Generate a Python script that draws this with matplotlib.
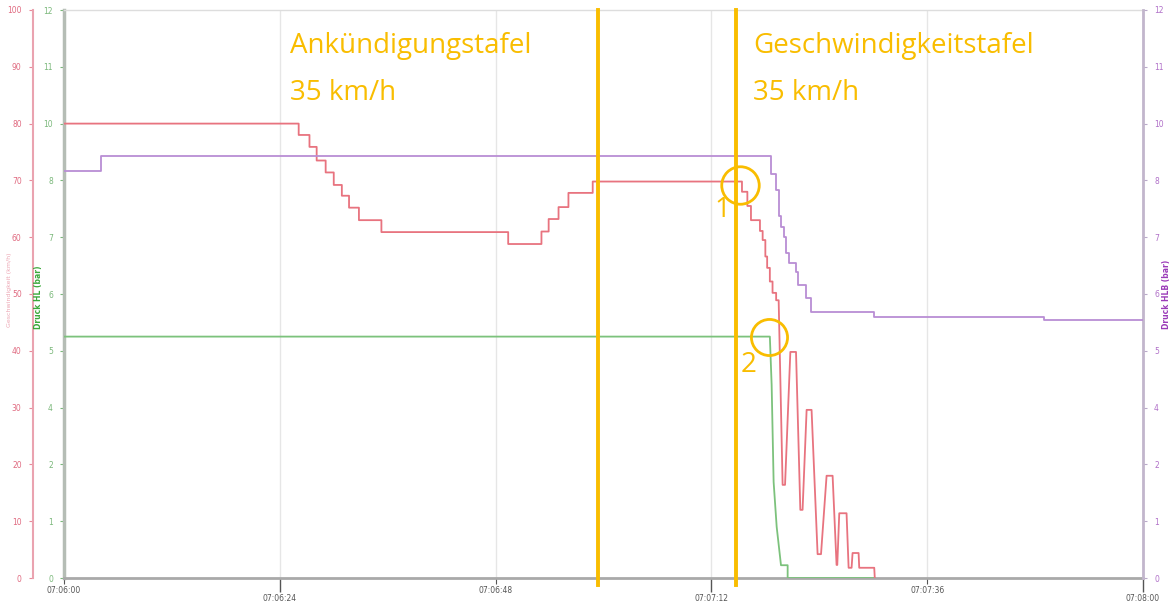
import numpy as np
import matplotlib
matplotlib.use("Agg")
import matplotlib.pyplot as plt

# ---------------- data (time in seconds after 07:06:00) ----------------
tick_secs = [0, 24, 48, 72, 96, 120]
tick_labels = ["07:06:00", "07:06:24", "07:06:48", "07:07:12", "07:07:36", "07:08:00"]

# speed (km/h) - step part: change times and levels (steps-post)
speed_step_t = [0, 26.1, 27.3, 28.1, 29.1, 30.0, 30.9, 31.7, 32.8, 35.3, 49.4, 53.1,
                53.9, 55.0, 56.1, 58.8, 75.4, 76.0, 76.4, 77.4, 77.7, 78.0, 78.2, 78.5,
                78.8, 79.2]
speed_step_v = [80.0, 78.0, 75.9, 73.5, 71.4, 69.2, 67.3, 65.2, 63.0, 60.9, 58.8, 61.0,
                63.2, 65.3, 67.8, 69.8, 68.0, 65.5, 63.0, 61.1, 59.5, 56.6, 54.6, 52.2,
                50.2, 48.9]
# speed - oscillating part (vertices)
speed_osc_t = [79.48, 79.92, 80.19, 80.78, 81.41, 81.89, 82.14, 82.59, 83.14, 83.81,
               84.19, 84.81, 85.48, 85.92, 86.0, 86.22, 87.03, 87.26, 87.59, 87.70,
               88.37, 88.44, 90.11, 90.17]
speed_osc_v = [48.9, 16.4, 16.4, 39.8, 39.8, 12.0, 12.0, 29.6, 29.6, 4.2,
               4.2, 18.0, 18.0, 2.3, 2.3, 11.4, 11.4, 1.8, 1.8, 4.4,
               4.4, 1.8, 1.8, 0.0]

# brake pipe pressure HL (bar)
hl_t = [0, 78.5, 78.7, 78.92, 79.26, 79.74, 80.48, 80.48, 90.11]
hl_v = [5.1, 5.1, 4.08, 2.03, 1.08, 0.27, 0.27, 0.0, 0.0]

# HLB pressure (bar) - steps-post
hlb_t = [0, 4.1, 78.63, 79.19, 79.48, 79.74, 80.11, 80.3, 80.67, 81.41, 81.59,
         82.52, 83.08, 90.11, 109.0, 120]
hlb_v = [8.6, 8.92, 8.53, 8.2, 7.65, 7.42, 7.21, 6.87, 6.65, 6.47, 6.19,
         5.91, 5.62, 5.52, 5.45, 5.45]

sign_times = [59.44, 74.78]

# ---------------- style ----------------
RED = "#e8737f"
GREEN = "#7cc27c"
PURPLE = "#b98ed4"
ORANGE = "#f9bd00"


def steps_to_vertices(t, v):
    xs, ys = [], []
    for i in range(len(t)):
        if i > 0:
            xs.append(t[i]); ys.append(v[i - 1])
        xs.append(t[i]); ys.append(v[i])
    return xs, ys


fig = plt.figure(figsize=(11.7, 6.02), dpi=100)
ax = fig.add_axes([64 / 1170, 1 - 578 / 602, (1143 - 64) / 1170, 568 / 602])
ax_r = ax.twinx()
ax_p = ax.twinx()

# main (green) axis
ax.set_xlim(0, 120)
ax.set_ylim(0, 12)
gt = np.arange(0, 12.01, 1.2)
ax.set_yticks(gt)
ax.set_yticklabels([str(int(round(g))) for g in gt])
ax.tick_params(axis="y", colors="#7ab87a", labelsize=5.5, length=3, width=0.8,
               labelcolor="#7ab87a", pad=5)

# x axis
ax.set_xticks(tick_secs[::2])
ax.set_xticklabels(tick_labels[::2])
ax.set_xticks(tick_secs[1::2], minor=True)
ax.set_xticklabels(tick_labels[1::2], minor=True)
ax.tick_params(axis="x", which="major", length=4, width=0.8, labelsize=5.5,
               colors="#555555", pad=2)
ax.tick_params(axis="x", which="minor", length=10, width=1.0, labelsize=5.5,
               colors="#555555", pad=1.5)
ax.grid(True, axis="x", which="both", color="#e6e6e6", lw=1.0)
ax.set_axisbelow(True)

ax.spines["top"].set_color("#dddddd"); ax.spines["top"].set_linewidth(1.0)
ax.spines["left"].set_color("#b5bdb5"); ax.spines["left"].set_linewidth(2.5)
ax.spines["bottom"].set_color("#a9a9a9"); ax.spines["bottom"].set_linewidth(2.0)
ax.spines["right"].set_visible(False)

# red axis (speed)
ax_r.set_ylim(0, 100)
ax_r.spines["left"].set_position(("outward", 22.5))
ax_r.spines["left"].set_visible(True)
ax_r.spines["left"].set_color("#eaa3b0")
ax_r.spines["left"].set_linewidth(1.5)
for s in ["right", "top", "bottom"]:
    ax_r.spines[s].set_visible(False)
ax_r.yaxis.set_ticks_position("left")
ax_r.yaxis.set_label_position("left")
ax_r.set_yticks(np.arange(0, 101, 10))
ax_r.tick_params(axis="y", colors="#e88a9a", labelcolor="#e06a80", labelsize=5.5,
                 length=3, width=0.8, pad=5)

# purple axis
ax_p.set_ylim(0, 12)
ax_p.set_yticks(gt)
ax_p.set_yticklabels([str(int(round(g))) for g in gt])
ax_p.tick_params(axis="y", colors="#b9a9c9", labelcolor="#b070c8", labelsize=5.5,
                 length=3, width=0.8, pad=5)
ax_p.spines["right"].set_color("#c2b6cc"); ax_p.spines["right"].set_linewidth(2.0)
for s in ["left", "top", "bottom"]:
    ax_p.spines[s].set_visible(False)

# data lines
rx, ry = steps_to_vertices(speed_step_t, speed_step_v)
rx = rx + speed_osc_t
ry = ry + speed_osc_v
ax_r.plot(rx, ry, color=RED, lw=1.3, zorder=3)

ax.plot(hl_t, hl_v, color=GREEN, lw=1.3, zorder=3)

px, py = steps_to_vertices(hlb_t, hlb_v)
ax_p.plot(px, py, color=PURPLE, lw=1.3, zorder=3)

# sign lines
for st in sign_times:
    ax_p.axvline(st, ymin=-0.012, ymax=1, color=ORANGE, lw=2.8, clip_on=False, zorder=5)

tr = ax_p.get_xaxis_transform()
tfont = dict(color=ORANGE, fontsize=20, family="Open Sans", va="center", ha="left",
             transform=tr)
ax_p.text(25.1, 0.936, "Ankündigungstafel", **tfont)
ax_p.text(25.1, 0.853, "35 km/h", **tfont)
ax_p.text(76.6, 0.936, "Geschwindigkeitstafel", **tfont)
ax_p.text(76.6, 0.853, "35 km/h", **tfont)

# circles
ax_p.plot([75.15], [(578 - 185) / 568 * 12], marker="o", ms=27, mfc="none",
          mec=ORANGE, mew=2.0, zorder=6)
ax_p.plot([78.37], [(578 - 336.7) / 568 * 12], marker="o", ms=26, mfc="none",
          mec=ORANGE, mew=2.0, zorder=6)
ax_p.text(73.2, (578 - 210) / 568, "1", color=ORANGE, fontsize=20, family="Open Sans",
          ha="center", va="center", transform=tr)
ax_p.text(76.1, (578 - 365) / 568, "2", color=ORANGE, fontsize=20, family="Open Sans",
          ha="center", va="center", transform=tr)

# axis titles
fig.text(39 / 1170, 1 - 297 / 602, "Druck HL (bar)", rotation=90, color="#3aa83a",
         fontsize=5.5, fontweight="bold", ha="center", va="center")
fig.text(1166 / 1170, 1 - 294 / 602, "Druck HLB (bar)", rotation=90, color="#9a3ab8",
         fontsize=5.5, fontweight="bold", ha="center", va="center")
fig.text(10 / 1170, 1 - 290 / 602, "Geschwindigkeit (km/h)", rotation=90, color="#e06a80",
         fontsize=4.5, alpha=0.6, ha="center", va="center")

fig.savefig("out.png", dpi=100)
